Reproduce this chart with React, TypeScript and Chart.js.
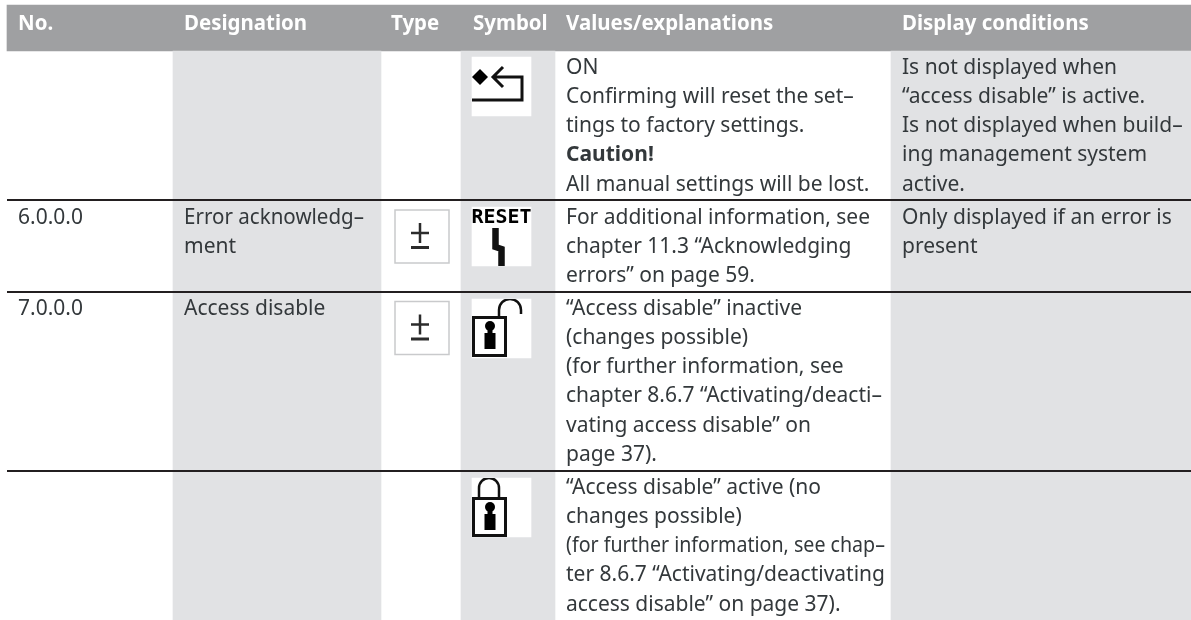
import React, { useEffect, useRef } from "react";
import { Chart, registerables } from "chart.js";

Chart.register(...registerables);

const headers = ["No.", "Designation", "Type", "Symbol", "Values/explanations", "Display conditions"];
const numbers = [[], ["6.0.0.0"], ["7.0.0.0"], []];
const designations = [[], ["Error acknowledg–", "ment"], ["Access disable"], []];
const typeMarks = [false, true, true, false];
const symbols = ["enter", "reset", "open", "closed"];
const values = [
  ["ON", "Confirming will reset the set–", "tings to factory settings.", "*Caution!", "All manual settings will be lost."],
  ["For additional information, see", "chapter 11.3 “Acknowledging", "errors” on page 59."],
  ["“Access disable” inactive", "(changes possible)", "(for further information, see", "chapter 8.6.7 “Activating/deacti–", "vating access disable” on", "page 37)."],
  ["“Access disable” active (no", "changes possible)", "(for further information, see chap–", "ter 8.6.7 “Activating/deactivating", "access disable” on page 37)."],
];
const conditions = [
  ["Is not displayed when", "“access disable” is active.", "Is not displayed when build–", "ing management system", "active."],
  ["Only displayed if an error is", "present"],
  [],
  [],
];

const W = 1191;
const H = 620;
const HEAD = { left: 7, top: 5, bottom: 51 };
const rowTops = [51, 201, 292, 471];
const RULES = [200, 292, 471];
const bands = [[173, 381], [461, 555], [891, 1191]];
const headerX = [18, 184, 391, 473, 566, 902];
const BODY_FONT = '"Noto Sans"';
const TEXT = "#33383b";
const LINE_H = 29.3;

function band(a: number, b: number, top: number, bottom: number, color: string, order: number) {
  return {
    type: "bar" as const,
    data: [{ x: (a + b) / 2, y: [top, bottom] }],
    barThickness: b - a,
    grouped: false,
    backgroundColor: color,
    borderWidth: 0,
    order,
  };
}
function rule(y: number) {
  return {
    type: "line" as const,
    data: [{ x: HEAD.left, y }, { x: W, y }],
    borderColor: "#231f20",
    borderWidth: 2,
    pointRadius: 0,
    order: 1,
  };
}

const symbolBoxes = [57, 207, 299, 478];
const typeBoxes = [0, 210, 301.5, 0];

const tablePlugin = {
  id: "tableText",
  afterDatasetsDraw(chart: any) {
    const c = chart.ctx;
    const px = (v: number) => chart.scales.x.getPixelForValue(v);
    const py = (v: number) => chart.scales.y.getPixelForValue(v);
    c.save();
    c.textBaseline = "alphabetic";
    c.textAlign = "left";
    c.fillStyle = "#ffffff";
    c.font = `bold 22px ${BODY_FONT}`;
    headers.forEach((h, i) => {
      c.save();
      c.translate(px(headerX[i]), py(29.5));
      c.scale(0.93, 1);
      c.fillText(h, 0, 0);
      c.restore();
    });

    const put = (lines: string[], x: number, top: number, maxW: number) => {
      lines.forEach((raw, i) => {
        const bold = raw.startsWith("*");
        c.font = `${bold ? "bold " : ""}21px ${BODY_FONT}`;
        c.fillStyle = TEXT;
        c.fillText(bold ? raw.slice(1) : raw, px(x), py(top + 22.5 + i * LINE_H), maxW);
      });
    };
    rowTops.forEach((top, r) => {
      put(numbers[r], 18, top, 150);
      put(designations[r], 184, top, 180);
      put(values[r], 566, top, 319);
      put(conditions[r], 902, top, 285);
      if (typeMarks[r]) drawPlusMinus(c, px(395), py(typeBoxes[r]));
      const sx = px(472);
      const sy = py(symbolBoxes[r]);
      c.save();
      c.beginPath();
      c.rect(sx, sy, 59, 59);
      c.clip();
      c.filter = "blur(0.5px)";
      drawSymbol(c, symbols[r], sx, sy);
      c.restore();
    });
    c.restore();
  },
};

function drawPlusMinus(c: any, x: number, y: number) {
  c.fillStyle = "#ffffff";
  c.strokeStyle = "#c9cacc";
  c.lineWidth = 1.5;
  c.fillRect(x, y, 54, 53);
  c.strokeRect(x, y, 54, 53);
  c.strokeStyle = "#2b2b2b";
  c.lineWidth = 2.5;
  c.beginPath();
  c.moveTo(x + 25, y + 13);
  c.lineTo(x + 25, y + 33);
  c.moveTo(x + 16, y + 23);
  c.lineTo(x + 34, y + 23);
  c.stroke();
  c.lineWidth = 3;
  c.beginPath();
  c.moveTo(x + 16, y + 37.5);
  c.lineTo(x + 34, y + 37.5);
  c.stroke();
}

function keyhole(c: any, cx: number, top: number) {
  c.fillStyle = "#000000";
  c.beginPath();
  c.arc(cx, top + 10, 5, 0, Math.PI * 2);
  c.fill();
  c.fillRect(cx - 2.5, top + 10, 5, 8);
  c.fillRect(cx - 5.5, top + 17, 11, 16);
}

function drawSymbol(c: any, kind: string, x: number, y: number) {
  c.strokeStyle = "#111111";
  c.fillStyle = "#000000";
  c.lineWidth = 3;
  c.lineJoin = "miter";
  if (kind === "enter") {
    c.beginPath();
    c.moveTo(x + 8, y + 12);
    c.lineTo(x + 16, y + 20);
    c.lineTo(x + 8, y + 28);
    c.lineTo(x, y + 20);
    c.closePath();
    c.fill();
    c.beginPath();
    c.moveTo(x + 31, y + 10);
    c.lineTo(x + 21, y + 20);
    c.lineTo(x + 31, y + 30);
    c.moveTo(x + 21, y + 20);
    c.lineTo(x + 50, y + 20);
    c.lineTo(x + 50, y + 43);
    c.lineTo(x, y + 43);
    c.stroke();
  } else if (kind === "reset") {
    c.font = "bold 20px 'DejaVu Sans Mono'";
    c.textBaseline = "alphabetic";
    c.fillText("RESET", x - 0.5, y + 16, 60);
    c.lineWidth = 6.5;
    c.beginPath();
    c.moveTo(x + 23.5, y + 21);
    c.lineTo(x + 23.5, y + 40);
    c.lineTo(x + 29.5, y + 42);
    c.lineTo(x + 29.5, y + 59);
    c.stroke();
  } else if (kind === "open") {
    c.strokeRect(x + 1.5, y + 18.5, 32, 38);
    c.lineWidth = 2.5;
    c.beginPath();
    c.moveTo(x + 27, y + 17);
    c.lineTo(x + 27, y + 11);
    c.arc(x + 38, y + 11, 11, Math.PI, 0);
    c.lineTo(x + 49, y + 15);
    c.stroke();
    keyhole(c, x + 18, y + 17);
  } else {
    c.strokeRect(x + 1.5, y + 20.5, 32, 37);
    c.lineWidth = 2.5;
    c.beginPath();
    c.moveTo(x + 7, y + 19);
    c.lineTo(x + 7, y + 10);
    c.arc(x + 17, y + 10, 10, Math.PI, 0);
    c.lineTo(x + 27, y + 19);
    c.stroke();
    keyhole(c, x + 18, y + 19);
  }
}

export default function App() {
  const ref = useRef<HTMLCanvasElement | null>(null);
  useEffect(() => {
    if (!ref.current) return;
    const datasets: any[] = [
      band(HEAD.left, W, HEAD.top, HEAD.bottom, "#9fa0a2", 5),
      ...bands.map(([a, b]) => band(a, b, HEAD.bottom, H, "#e1e2e4", 4)),
      ...symbolBoxes.map((t) => band(472, 531, t, t + 59, "#ffffff", 3)),
      ...RULES.map(rule),
    ];
    const chart = new Chart(ref.current, {
      type: "bar",
      data: { datasets },
      options: {
        animation: false,
        responsive: false,
        layout: { padding: 0 },
        plugins: { legend: { display: false }, tooltip: { enabled: false }, title: { display: false } },
        scales: {
          x: { type: "linear", min: 0, max: W, offset: false, display: false },
          y: { type: "linear", min: 0, max: H, reverse: true, display: false },
        },
      },
      plugins: [tablePlugin],
    } as any);
    return () => chart.destroy();
  }, []);
  return (
    <div style={{ position: "fixed", left: 0, top: 0, width: W, height: H, background: "#fff" }}>
      <canvas ref={ref} width={W} height={H} style={{ display: "block" }} />
    </div>
  );
}
